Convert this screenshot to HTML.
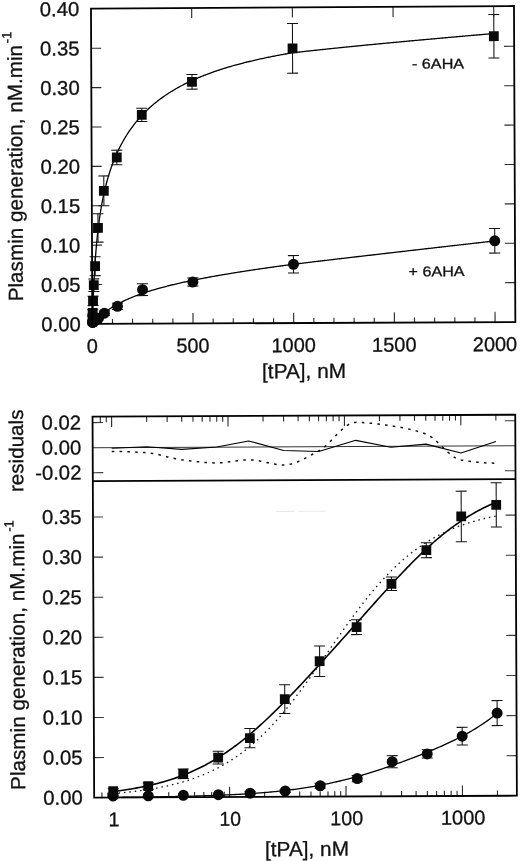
<!DOCTYPE html>
<html><head><meta charset="utf-8"><title>Plasmin generation vs [tPA]</title><style>html,body{margin:0;padding:0;background:#fff}svg{display:block}text{font-family:"Liberation Sans",Arial,Helvetica,sans-serif;stroke:#111;stroke-width:0.3px}</style></head><body><svg width="520" height="861" viewBox="0 0 520 861" font-family='"Liberation Sans", Arial, Helvetica, sans-serif' fill="#111"><rect width="520" height="861" fill="#fff"/><g transform="matrix(1 -0.0046 0.0043 1 -1.8490 1.1960)"><line x1="92.80" y1="283.81" x2="102.80" y2="283.81" stroke="#2a2a2a" stroke-width="1.1"/>
<line x1="515.70" y1="283.81" x2="505.70" y2="283.81" stroke="#2a2a2a" stroke-width="1.1"/>
<line x1="92.80" y1="244.42" x2="102.80" y2="244.42" stroke="#2a2a2a" stroke-width="1.1"/>
<line x1="515.70" y1="244.42" x2="505.70" y2="244.42" stroke="#2a2a2a" stroke-width="1.1"/>
<line x1="92.80" y1="205.03" x2="102.80" y2="205.03" stroke="#2a2a2a" stroke-width="1.1"/>
<line x1="515.70" y1="205.03" x2="505.70" y2="205.03" stroke="#2a2a2a" stroke-width="1.1"/>
<line x1="92.80" y1="165.64" x2="102.80" y2="165.64" stroke="#2a2a2a" stroke-width="1.1"/>
<line x1="515.70" y1="165.64" x2="505.70" y2="165.64" stroke="#2a2a2a" stroke-width="1.1"/>
<line x1="92.80" y1="126.25" x2="102.80" y2="126.25" stroke="#2a2a2a" stroke-width="1.1"/>
<line x1="515.70" y1="126.25" x2="505.70" y2="126.25" stroke="#2a2a2a" stroke-width="1.1"/>
<line x1="92.80" y1="86.86" x2="102.80" y2="86.86" stroke="#2a2a2a" stroke-width="1.1"/>
<line x1="515.70" y1="86.86" x2="505.70" y2="86.86" stroke="#2a2a2a" stroke-width="1.1"/>
<line x1="92.80" y1="47.47" x2="102.80" y2="47.47" stroke="#2a2a2a" stroke-width="1.1"/>
<line x1="515.70" y1="47.47" x2="505.70" y2="47.47" stroke="#2a2a2a" stroke-width="1.1"/>
<line x1="112.94" y1="323.20" x2="112.94" y2="318.20" stroke="#2a2a2a" stroke-width="1.1"/>
<line x1="133.07" y1="323.20" x2="133.07" y2="318.20" stroke="#2a2a2a" stroke-width="1.1"/>
<line x1="153.21" y1="323.20" x2="153.21" y2="318.20" stroke="#2a2a2a" stroke-width="1.1"/>
<line x1="173.35" y1="323.20" x2="173.35" y2="318.20" stroke="#2a2a2a" stroke-width="1.1"/>
<line x1="193.49" y1="323.20" x2="193.49" y2="312.80" stroke="#2a2a2a" stroke-width="1.1"/>
<line x1="193.49" y1="7.60" x2="193.49" y2="17.60" stroke="#2a2a2a" stroke-width="1.1"/>
<line x1="213.62" y1="323.20" x2="213.62" y2="318.20" stroke="#2a2a2a" stroke-width="1.1"/>
<line x1="233.76" y1="323.20" x2="233.76" y2="318.20" stroke="#2a2a2a" stroke-width="1.1"/>
<line x1="253.90" y1="323.20" x2="253.90" y2="318.20" stroke="#2a2a2a" stroke-width="1.1"/>
<line x1="274.03" y1="323.20" x2="274.03" y2="318.20" stroke="#2a2a2a" stroke-width="1.1"/>
<line x1="294.17" y1="323.20" x2="294.17" y2="312.80" stroke="#2a2a2a" stroke-width="1.1"/>
<line x1="294.17" y1="7.60" x2="294.17" y2="17.60" stroke="#2a2a2a" stroke-width="1.1"/>
<line x1="314.31" y1="323.20" x2="314.31" y2="318.20" stroke="#2a2a2a" stroke-width="1.1"/>
<line x1="334.44" y1="323.20" x2="334.44" y2="318.20" stroke="#2a2a2a" stroke-width="1.1"/>
<line x1="354.58" y1="323.20" x2="354.58" y2="318.20" stroke="#2a2a2a" stroke-width="1.1"/>
<line x1="374.72" y1="323.20" x2="374.72" y2="318.20" stroke="#2a2a2a" stroke-width="1.1"/>
<line x1="394.86" y1="323.20" x2="394.86" y2="312.80" stroke="#2a2a2a" stroke-width="1.1"/>
<line x1="394.86" y1="7.60" x2="394.86" y2="17.60" stroke="#2a2a2a" stroke-width="1.1"/>
<line x1="414.99" y1="323.20" x2="414.99" y2="318.20" stroke="#2a2a2a" stroke-width="1.1"/>
<line x1="435.13" y1="323.20" x2="435.13" y2="318.20" stroke="#2a2a2a" stroke-width="1.1"/>
<line x1="455.27" y1="323.20" x2="455.27" y2="318.20" stroke="#2a2a2a" stroke-width="1.1"/>
<line x1="475.40" y1="323.20" x2="475.40" y2="318.20" stroke="#2a2a2a" stroke-width="1.1"/>
<line x1="495.54" y1="323.20" x2="495.54" y2="312.80" stroke="#2a2a2a" stroke-width="1.1"/>
<line x1="495.54" y1="7.60" x2="495.54" y2="17.60" stroke="#2a2a2a" stroke-width="1.1"/>
<path d="M92.80,323.20 L92.90,320.16 L93.00,317.22 L93.10,314.38 L93.20,311.63 L93.30,308.98 L93.40,306.40 L93.50,303.90 L93.61,301.48 L93.71,299.13 L93.81,296.84 L93.91,294.62 L94.01,292.47 L94.11,290.37 L94.21,288.33 L94.31,286.34 L94.41,284.40 L94.51,282.52 L94.61,280.68 L94.71,278.88 L94.81,277.13 L94.91,275.42 L95.02,273.75 L95.12,272.12 L95.22,270.53 L95.32,268.97 L95.42,267.45 L95.52,265.95 L95.62,264.49 L95.72,263.07 L95.82,261.67 L95.92,260.29 L96.02,258.95 L96.12,257.63 L96.22,256.34 L96.32,255.08 L96.42,253.83 L96.53,252.61 L96.63,251.42 L96.73,250.24 L96.83,249.08 L96.93,247.95 L97.03,246.84 L97.13,245.74 L97.23,244.66 L97.33,243.60 L97.43,242.56 L97.53,241.54 L97.63,240.53 L97.73,239.54 L97.83,238.56 L97.93,237.60 L98.04,236.65 L98.14,235.72 L98.24,234.80 L98.34,233.89 L98.44,233.00 L98.54,232.12 L98.64,231.26 L98.74,230.40 L98.84,229.56 L98.94,228.73 L99.04,227.91 L99.14,227.10 L99.24,226.30 L99.34,225.51 L99.45,224.73 L99.55,223.97 L99.65,223.21 L99.75,222.46 L99.85,221.72 L99.95,220.99 L100.05,220.27 L100.15,219.56 L100.25,218.85 L100.35,218.16 L100.45,217.47 L100.55,216.79 L100.65,216.12 L100.75,215.45 L100.85,214.80 L100.96,214.15 L101.06,213.50 L101.16,212.87 L101.26,212.24 L101.36,211.62 L101.46,211.00 L101.56,210.39 L101.66,209.79 L101.76,209.19 L101.86,208.60 L101.96,208.02 L102.06,207.44 L102.16,206.86 L102.26,206.30 L102.37,205.73 L102.47,205.18 L102.57,204.63 L102.67,204.08 L102.77,203.54 L102.87,203.00 L102.97,202.47 L103.07,201.94 L103.17,201.42 L103.27,200.91 L103.37,200.39 L103.47,199.89 L103.57,199.38 L103.67,198.88 L103.77,198.39 L103.88,197.90 L103.98,197.41 L104.08,196.93 L104.18,196.45 L104.28,195.98 L104.38,195.51 L104.48,195.04 L104.58,194.58 L104.68,194.12 L104.78,193.66 L104.88,193.21 L104.98,192.76 L105.08,192.32 L105.18,191.88 L105.28,191.44 L105.39,191.00 L105.49,190.57 L105.59,190.14 L105.69,189.72 L105.79,189.30 L105.89,188.88 L105.99,188.46 L106.09,188.05 L106.19,187.64 L106.29,187.23 L106.39,186.83 L106.49,186.43 L106.59,186.03 L106.69,185.63 L106.80,185.24 L106.90,184.85 L107.00,184.46 L107.10,184.08 L107.20,183.69 L107.30,183.31 L107.40,182.94 L107.50,182.56 L107.60,182.19 L107.70,181.82 L107.80,181.45 L107.90,181.09 L108.00,180.72 L108.10,180.36 L108.20,180.01 L108.31,179.65 L108.41,179.29 L108.51,178.94 L108.61,178.59 L108.71,178.25 L108.81,177.90 L108.91,177.56 L109.01,177.22 L109.11,176.88 L109.21,176.54 L109.31,176.21 L109.41,175.87 L109.51,175.54 L109.61,175.21 L109.72,174.88 L109.82,174.56 L109.92,174.23 L110.02,173.91 L110.12,173.59 L110.22,173.27 L110.32,172.96 L110.42,172.64 L110.52,172.33 L110.62,172.02 L110.72,171.71 L110.82,171.40 L110.92,171.10 L111.02,170.79 L111.12,170.49 L111.23,170.19 L111.33,169.89 L111.43,169.59 L111.53,169.29 L111.63,169.00 L111.73,168.70 L111.83,168.41 L111.93,168.12 L112.03,167.83 L112.13,167.54 L112.23,167.26 L112.33,166.97 L112.43,166.69 L112.53,166.41 L112.63,166.13 L112.74,165.85 L112.84,165.57 L112.94,165.29 L113.94,162.60 L114.95,160.03 L115.96,157.58 L116.96,155.22 L117.97,152.96 L118.98,150.79 L119.98,148.71 L120.99,146.69 L122.00,144.75 L123.01,142.88 L124.01,141.06 L125.02,139.31 L126.03,137.61 L127.03,135.96 L128.04,134.37 L129.05,132.82 L130.05,131.31 L131.06,129.85 L132.07,128.43 L133.07,127.04 L134.08,125.69 L135.09,124.38 L136.09,123.10 L137.10,121.85 L138.11,120.63 L139.12,119.44 L140.12,118.28 L141.13,117.15 L142.14,116.04 L143.14,114.96 L144.15,113.90 L145.16,112.86 L146.16,111.85 L147.17,110.86 L148.18,109.89 L149.18,108.94 L150.19,108.01 L151.20,107.10 L152.20,106.20 L153.21,105.32 L154.22,104.46 L155.22,103.62 L156.23,102.79 L157.24,101.98 L158.25,101.19 L159.25,100.40 L160.26,99.64 L161.27,98.88 L162.27,98.14 L163.28,97.41 L164.29,96.70 L165.29,96.00 L166.30,95.31 L167.31,94.63 L168.31,93.96 L169.32,93.30 L170.33,92.66 L171.33,92.02 L172.34,91.40 L173.35,90.78 L174.35,90.18 L175.36,89.58 L176.37,88.99 L177.38,88.41 L178.38,87.85 L179.39,87.29 L180.40,86.73 L181.40,86.19 L182.41,85.65 L183.42,85.13 L184.42,84.61 L185.43,84.09 L186.44,83.59 L187.44,83.09 L188.45,82.60 L189.46,82.11 L190.46,81.64 L191.47,81.16 L192.48,80.70 L193.49,80.24 L194.49,79.79 L195.50,79.34 L196.51,78.90 L197.51,78.47 L198.52,78.04 L199.53,77.61 L200.53,77.20 L201.54,76.78 L202.55,76.38 L203.55,75.97 L204.56,75.58 L205.57,75.18 L206.57,74.80 L207.58,74.41 L208.59,74.04 L209.59,73.66 L210.60,73.29 L211.61,72.93 L212.62,72.57 L213.62,72.21 L214.63,71.86 L215.64,71.51 L216.64,71.17 L217.65,70.83 L218.66,70.49 L219.66,70.16 L220.67,69.83 L221.68,69.51 L222.68,69.19 L223.69,68.87 L224.70,68.56 L225.70,68.25 L226.71,67.94 L227.72,67.64 L228.72,67.34 L229.73,67.04 L230.74,66.75 L231.75,66.45 L232.75,66.17 L233.76,65.88 L234.77,65.60 L235.77,65.32 L236.78,65.05 L237.79,64.77 L238.79,64.50 L239.80,64.23 L240.81,63.97 L241.81,63.71 L242.82,63.45 L243.83,63.19 L244.83,62.94 L245.84,62.68 L246.85,62.43 L247.85,62.19 L248.86,61.94 L249.87,61.70 L250.88,61.46 L251.88,61.22 L252.89,60.99 L253.90,60.75 L254.90,60.52 L255.91,60.30 L256.92,60.07 L257.92,59.84 L258.93,59.62 L259.94,59.40 L260.94,59.18 L261.95,58.97 L262.96,58.75 L263.96,58.54 L264.97,58.33 L265.98,58.12 L266.99,57.91 L267.99,57.71 L269.00,57.50 L270.01,57.30 L271.01,57.10 L272.02,56.91 L273.03,56.71 L274.03,56.52 L275.04,56.32 L276.05,56.13 L277.05,55.94 L278.06,55.75 L279.07,55.57 L280.07,55.38 L281.08,55.20 L282.09,55.02 L283.09,54.84 L284.10,54.66 L285.11,54.48 L286.12,54.31 L287.12,54.13 L288.13,53.96 L289.14,53.79 L290.14,53.62 L291.15,53.45 L292.16,53.28 L293.16,53.11 L294.17,52.95 L295.18,52.84 L296.18,52.73 L297.19,52.62 L298.20,52.51 L299.20,52.40 L300.21,52.30 L301.22,52.19 L302.22,52.08 L303.23,51.97 L304.24,51.87 L305.25,51.76 L306.25,51.65 L307.26,51.55 L308.27,51.44 L309.27,51.34 L310.28,51.23 L311.29,51.13 L312.29,51.02 L313.30,50.92 L314.31,50.81 L315.31,50.71 L316.32,50.61 L317.33,50.50 L318.33,50.40 L319.34,50.30 L320.35,50.19 L321.35,50.09 L322.36,49.99 L323.37,49.89 L324.38,49.79 L325.38,49.69 L326.39,49.58 L327.40,49.48 L328.40,49.38 L329.41,49.28 L330.42,49.18 L331.42,49.08 L332.43,48.98 L333.44,48.88 L334.44,48.78 L335.45,48.68 L336.46,48.58 L337.46,48.49 L338.47,48.39 L339.48,48.29 L340.49,48.19 L341.49,48.09 L342.50,48.00 L343.51,47.90 L344.51,47.80 L345.52,47.70 L346.53,47.61 L347.53,47.51 L348.54,47.41 L349.55,47.32 L350.55,47.22 L351.56,47.12 L352.57,47.03 L353.57,46.93 L354.58,46.84 L355.59,46.74 L356.59,46.65 L357.60,46.55 L358.61,46.46 L359.62,46.36 L360.62,46.27 L361.63,46.17 L362.64,46.08 L363.64,45.98 L364.65,45.89 L365.66,45.80 L366.66,45.70 L367.67,45.61 L368.68,45.51 L369.68,45.42 L370.69,45.33 L371.70,45.24 L372.70,45.14 L373.71,45.05 L374.72,44.96 L375.72,44.87 L376.73,44.77 L377.74,44.68 L378.75,44.59 L379.75,44.50 L380.76,44.41 L381.77,44.31 L382.77,44.22 L383.78,44.13 L384.79,44.04 L385.79,43.95 L386.80,43.86 L387.81,43.77 L388.81,43.68 L389.82,43.59 L390.83,43.50 L391.83,43.41 L392.84,43.32 L393.85,43.23 L394.86,43.14 L395.86,43.05 L396.87,42.96 L397.88,42.87 L398.88,42.78 L399.89,42.69 L400.90,42.60 L401.90,42.51 L402.91,42.42 L403.92,42.33 L404.92,42.24 L405.93,42.16 L406.94,42.07 L407.94,41.98 L408.95,41.89 L409.96,41.80 L410.96,41.71 L411.97,41.63 L412.98,41.54 L413.99,41.45 L414.99,41.36 L416.00,41.28 L417.01,41.19 L418.01,41.10 L419.02,41.01 L420.03,40.93 L421.03,40.84 L422.04,40.75 L423.05,40.67 L424.05,40.58 L425.06,40.49 L426.07,40.40 L427.07,40.32 L428.08,40.23 L429.09,40.15 L430.09,40.06 L431.10,39.97 L432.11,39.89 L433.12,39.80 L434.12,39.72 L435.13,39.63 L436.14,39.54 L437.14,39.46 L438.15,39.37 L439.16,39.29 L440.16,39.20 L441.17,39.12 L442.18,39.03 L443.18,38.95 L444.19,38.86 L445.20,38.78 L446.20,38.69 L447.21,38.61 L448.22,38.52 L449.22,38.44 L450.23,38.35 L451.24,38.27 L452.25,38.18 L453.25,38.10 L454.26,38.02 L455.27,37.93 L456.27,37.85 L457.28,37.76 L458.29,37.68 L459.29,37.60 L460.30,37.51 L461.31,37.43 L462.31,37.34 L463.32,37.26 L464.33,37.18 L465.33,37.09 L466.34,37.01 L467.35,36.93 L468.36,36.84 L469.36,36.76 L470.37,36.68 L471.38,36.59 L472.38,36.51 L473.39,36.43 L474.40,36.35 L475.40,36.26 L476.41,36.18 L477.42,36.10 L478.42,36.02 L479.43,35.93 L480.44,35.85 L481.44,35.77 L482.45,35.69 L483.46,35.60 L484.46,35.52 L485.47,35.44 L486.48,35.36 L487.49,35.27 L488.49,35.19 L489.50,35.11 L490.51,35.03 L491.51,34.95 L492.52,34.87 L493.53,34.78 L494.53,34.70 L495.54,34.62" fill="none" stroke="#000" stroke-width="1.3" stroke-linejoin="round"/>
<path d="M92.80,323.20 L92.90,323.09 L93.00,322.97 L93.10,322.86 L93.20,322.74 L93.30,322.63 L93.40,322.52 L93.50,322.41 L93.61,322.30 L93.71,322.18 L93.81,322.07 L93.91,321.96 L94.01,321.85 L94.11,321.74 L94.21,321.64 L94.31,321.53 L94.41,321.42 L94.51,321.31 L94.61,321.20 L94.71,321.10 L94.81,320.99 L94.91,320.88 L95.02,320.78 L95.12,320.67 L95.22,320.57 L95.32,320.46 L95.42,320.36 L95.52,320.25 L95.62,320.15 L95.72,320.05 L95.82,319.94 L95.92,319.84 L96.02,319.74 L96.12,319.64 L96.22,319.54 L96.32,319.44 L96.42,319.33 L96.53,319.23 L96.63,319.13 L96.73,319.03 L96.83,318.94 L96.93,318.84 L97.03,318.74 L97.13,318.64 L97.23,318.54 L97.33,318.44 L97.43,318.35 L97.53,318.25 L97.63,318.15 L97.73,318.06 L97.83,317.96 L97.93,317.87 L98.04,317.77 L98.14,317.68 L98.24,317.58 L98.34,317.49 L98.44,317.39 L98.54,317.30 L98.64,317.21 L98.74,317.11 L98.84,317.02 L98.94,316.93 L99.04,316.84 L99.14,316.74 L99.24,316.65 L99.34,316.56 L99.45,316.47 L99.55,316.38 L99.65,316.29 L99.75,316.20 L99.85,316.11 L99.95,316.02 L100.05,315.93 L100.15,315.84 L100.25,315.76 L100.35,315.67 L100.45,315.58 L100.55,315.49 L100.65,315.40 L100.75,315.32 L100.85,315.23 L100.96,315.14 L101.06,315.06 L101.16,314.97 L101.26,314.89 L101.36,314.80 L101.46,314.72 L101.56,314.63 L101.66,314.55 L101.76,314.46 L101.86,314.38 L101.96,314.29 L102.06,314.21 L102.16,314.13 L102.26,314.05 L102.37,313.96 L102.47,313.88 L102.57,313.80 L102.67,313.72 L102.77,313.63 L102.87,313.55 L102.97,313.47 L103.07,313.39 L103.17,313.31 L103.27,313.23 L103.37,313.15 L103.47,313.07 L103.57,312.99 L103.67,312.91 L103.77,312.83 L103.88,312.75 L103.98,312.67 L104.08,312.59 L104.18,312.52 L104.28,312.44 L104.38,312.36 L104.48,312.28 L104.58,312.20 L104.68,312.13 L104.78,312.05 L104.88,311.97 L104.98,311.90 L105.08,311.82 L105.18,311.75 L105.28,311.67 L105.39,311.59 L105.49,311.52 L105.59,311.44 L105.69,311.37 L105.79,311.29 L105.89,311.22 L105.99,311.15 L106.09,311.07 L106.19,311.00 L106.29,310.92 L106.39,310.85 L106.49,310.78 L106.59,310.70 L106.69,310.63 L106.80,310.56 L106.90,310.49 L107.00,310.41 L107.10,310.34 L107.20,310.27 L107.30,310.20 L107.40,310.13 L107.50,310.06 L107.60,309.99 L107.70,309.91 L107.80,309.84 L107.90,309.77 L108.00,309.70 L108.10,309.63 L108.20,309.56 L108.31,309.49 L108.41,309.42 L108.51,309.36 L108.61,309.29 L108.71,309.22 L108.81,309.15 L108.91,309.08 L109.01,309.01 L109.11,308.94 L109.21,308.88 L109.31,308.81 L109.41,308.74 L109.51,308.67 L109.61,308.61 L109.72,308.54 L109.82,308.47 L109.92,308.41 L110.02,308.34 L110.12,308.27 L110.22,308.21 L110.32,308.14 L110.42,308.08 L110.52,308.01 L110.62,307.94 L110.72,307.88 L110.82,307.81 L110.92,307.75 L111.02,307.68 L111.12,307.62 L111.23,307.56 L111.33,307.49 L111.43,307.43 L111.53,307.36 L111.63,307.30 L111.73,307.24 L111.83,307.17 L111.93,307.11 L112.03,307.05 L112.13,306.98 L112.23,306.92 L112.33,306.86 L112.43,306.80 L112.53,306.73 L112.63,306.67 L112.74,306.61 L112.84,306.55 L112.94,306.49 L113.94,305.88 L114.95,305.28 L115.96,304.71 L116.96,304.14 L117.97,303.59 L118.98,303.05 L119.98,302.52 L120.99,302.00 L122.00,301.50 L123.01,301.01 L124.01,300.52 L125.02,300.05 L126.03,299.58 L127.03,299.13 L128.04,298.68 L129.05,298.24 L130.05,297.81 L131.06,297.39 L132.07,296.98 L133.07,296.57 L134.08,296.17 L135.09,295.78 L136.09,295.39 L137.10,295.01 L138.11,294.64 L139.12,294.27 L140.12,293.91 L141.13,293.55 L142.14,293.20 L143.14,292.85 L144.15,292.51 L145.16,292.18 L146.16,291.85 L147.17,291.52 L148.18,291.20 L149.18,290.89 L150.19,290.57 L151.20,290.27 L152.20,289.96 L153.21,289.66 L154.22,289.37 L155.22,289.07 L156.23,288.79 L157.24,288.50 L158.25,288.22 L159.25,287.94 L160.26,287.67 L161.27,287.39 L162.27,287.13 L163.28,286.86 L164.29,286.60 L165.29,286.34 L166.30,286.08 L167.31,285.83 L168.31,285.57 L169.32,285.33 L170.33,285.08 L171.33,284.84 L172.34,284.59 L173.35,284.35 L174.35,284.12 L175.36,283.88 L176.37,283.65 L177.38,283.42 L178.38,283.19 L179.39,282.97 L180.40,282.74 L181.40,282.52 L182.41,282.30 L183.42,282.08 L184.42,281.87 L185.43,281.65 L186.44,281.44 L187.44,281.23 L188.45,281.02 L189.46,280.81 L190.46,280.60 L191.47,280.40 L192.48,280.20 L193.49,280.00 L194.49,279.80 L195.50,279.60 L196.51,279.40 L197.51,279.21 L198.52,279.01 L199.53,278.82 L200.53,278.63 L201.54,278.44 L202.55,278.25 L203.55,278.06 L204.56,277.87 L205.57,277.69 L206.57,277.50 L207.58,277.32 L208.59,277.14 L209.59,276.96 L210.60,276.78 L211.61,276.60 L212.62,276.42 L213.62,276.25 L214.63,276.07 L215.64,275.90 L216.64,275.72 L217.65,275.55 L218.66,275.38 L219.66,275.21 L220.67,275.04 L221.68,274.87 L222.68,274.70 L223.69,274.54 L224.70,274.37 L225.70,274.21 L226.71,274.04 L227.72,273.88 L228.72,273.71 L229.73,273.55 L230.74,273.39 L231.75,273.23 L232.75,273.07 L233.76,272.91 L234.77,272.75 L235.77,272.60 L236.78,272.44 L237.79,272.28 L238.79,272.13 L239.80,271.97 L240.81,271.82 L241.81,271.67 L242.82,271.51 L243.83,271.36 L244.83,271.21 L245.84,271.06 L246.85,270.91 L247.85,270.76 L248.86,270.61 L249.87,270.46 L250.88,270.31 L251.88,270.17 L252.89,270.02 L253.90,269.87 L254.90,269.73 L255.91,269.58 L256.92,269.44 L257.92,269.29 L258.93,269.15 L259.94,269.01 L260.94,268.86 L261.95,268.72 L262.96,268.58 L263.96,268.44 L264.97,268.30 L265.98,268.16 L266.99,268.02 L267.99,267.88 L269.00,267.74 L270.01,267.60 L271.01,267.46 L272.02,267.33 L273.03,267.19 L274.03,267.05 L275.04,266.91 L276.05,266.78 L277.05,266.64 L278.06,266.51 L279.07,266.37 L280.07,266.24 L281.08,266.10 L282.09,265.97 L283.09,265.84 L284.10,265.70 L285.11,265.57 L286.12,265.44 L287.12,265.31 L288.13,265.18 L289.14,265.05 L290.14,264.91 L291.15,264.78 L292.16,264.65 L293.16,264.52 L294.17,264.39 L295.18,264.28 L296.18,264.16 L297.19,264.05 L298.20,263.93 L299.20,263.81 L300.21,263.70 L301.22,263.58 L302.22,263.47 L303.23,263.35 L304.24,263.24 L305.25,263.12 L306.25,263.00 L307.26,262.89 L308.27,262.77 L309.27,262.66 L310.28,262.54 L311.29,262.43 L312.29,262.31 L313.30,262.20 L314.31,262.08 L315.31,261.97 L316.32,261.85 L317.33,261.74 L318.33,261.63 L319.34,261.51 L320.35,261.40 L321.35,261.28 L322.36,261.17 L323.37,261.05 L324.38,260.94 L325.38,260.82 L326.39,260.71 L327.40,260.60 L328.40,260.48 L329.41,260.37 L330.42,260.25 L331.42,260.14 L332.43,260.03 L333.44,259.91 L334.44,259.80 L335.45,259.69 L336.46,259.57 L337.46,259.46 L338.47,259.34 L339.48,259.23 L340.49,259.12 L341.49,259.00 L342.50,258.89 L343.51,258.78 L344.51,258.66 L345.52,258.55 L346.53,258.44 L347.53,258.33 L348.54,258.21 L349.55,258.10 L350.55,257.99 L351.56,257.87 L352.57,257.76 L353.57,257.65 L354.58,257.53 L355.59,257.42 L356.59,257.31 L357.60,257.20 L358.61,257.08 L359.62,256.97 L360.62,256.86 L361.63,256.75 L362.64,256.63 L363.64,256.52 L364.65,256.41 L365.66,256.30 L366.66,256.18 L367.67,256.07 L368.68,255.96 L369.68,255.85 L370.69,255.74 L371.70,255.62 L372.70,255.51 L373.71,255.40 L374.72,255.29 L375.72,255.17 L376.73,255.06 L377.74,254.95 L378.75,254.84 L379.75,254.73 L380.76,254.62 L381.77,254.50 L382.77,254.39 L383.78,254.28 L384.79,254.17 L385.79,254.06 L386.80,253.95 L387.81,253.83 L388.81,253.72 L389.82,253.61 L390.83,253.50 L391.83,253.39 L392.84,253.28 L393.85,253.16 L394.86,253.05 L395.86,252.94 L396.87,252.83 L397.88,252.72 L398.88,252.61 L399.89,252.50 L400.90,252.39 L401.90,252.27 L402.91,252.16 L403.92,252.05 L404.92,251.94 L405.93,251.83 L406.94,251.72 L407.94,251.61 L408.95,251.50 L409.96,251.39 L410.96,251.27 L411.97,251.16 L412.98,251.05 L413.99,250.94 L414.99,250.83 L416.00,250.72 L417.01,250.61 L418.01,250.50 L419.02,250.39 L420.03,250.28 L421.03,250.17 L422.04,250.05 L423.05,249.94 L424.05,249.83 L425.06,249.72 L426.07,249.61 L427.07,249.50 L428.08,249.39 L429.09,249.28 L430.09,249.17 L431.10,249.06 L432.11,248.95 L433.12,248.84 L434.12,248.73 L435.13,248.62 L436.14,248.51 L437.14,248.40 L438.15,248.29 L439.16,248.18 L440.16,248.07 L441.17,247.96 L442.18,247.85 L443.18,247.73 L444.19,247.62 L445.20,247.51 L446.20,247.40 L447.21,247.29 L448.22,247.18 L449.22,247.07 L450.23,246.96 L451.24,246.85 L452.25,246.74 L453.25,246.63 L454.26,246.52 L455.27,246.41 L456.27,246.30 L457.28,246.19 L458.29,246.08 L459.29,245.97 L460.30,245.86 L461.31,245.75 L462.31,245.64 L463.32,245.53 L464.33,245.42 L465.33,245.31 L466.34,245.20 L467.35,245.09 L468.36,244.98 L469.36,244.87 L470.37,244.76 L471.38,244.65 L472.38,244.54 L473.39,244.44 L474.40,244.33 L475.40,244.22 L476.41,244.11 L477.42,244.00 L478.42,243.89 L479.43,243.78 L480.44,243.67 L481.44,243.56 L482.45,243.45 L483.46,243.34 L484.46,243.23 L485.47,243.12 L486.48,243.01 L487.49,242.90 L488.49,242.79 L489.50,242.68 L490.51,242.57 L491.51,242.46 L492.52,242.35 L493.53,242.24 L494.53,242.13 L495.54,242.02" fill="none" stroke="#000" stroke-width="1.3" stroke-linejoin="round"/>
<line x1="93.00" y1="314.46" x2="93.00" y2="319.18" stroke="#111" stroke-width="1.05"/>
<line x1="87.50" y1="314.46" x2="98.50" y2="314.46" stroke="#111" stroke-width="1.05"/>
<line x1="87.50" y1="319.18" x2="98.50" y2="319.18" stroke="#111" stroke-width="1.05"/>
<line x1="93.20" y1="308.91" x2="93.20" y2="315.21" stroke="#111" stroke-width="1.05"/>
<line x1="87.70" y1="308.91" x2="98.70" y2="308.91" stroke="#111" stroke-width="1.05"/>
<line x1="87.70" y1="315.21" x2="98.70" y2="315.21" stroke="#111" stroke-width="1.05"/>
<line x1="93.61" y1="295.39" x2="93.61" y2="304.84" stroke="#111" stroke-width="1.05"/>
<line x1="88.11" y1="295.39" x2="99.11" y2="295.39" stroke="#111" stroke-width="1.05"/>
<line x1="88.11" y1="304.84" x2="99.11" y2="304.84" stroke="#111" stroke-width="1.05"/>
<line x1="94.41" y1="278.14" x2="94.41" y2="290.74" stroke="#111" stroke-width="1.05"/>
<line x1="88.91" y1="278.14" x2="99.91" y2="278.14" stroke="#111" stroke-width="1.05"/>
<line x1="88.91" y1="290.74" x2="99.91" y2="290.74" stroke="#111" stroke-width="1.05"/>
<line x1="95.82" y1="256.00" x2="95.82" y2="274.91" stroke="#111" stroke-width="1.05"/>
<line x1="90.32" y1="256.00" x2="101.32" y2="256.00" stroke="#111" stroke-width="1.05"/>
<line x1="90.32" y1="274.91" x2="101.32" y2="274.91" stroke="#111" stroke-width="1.05"/>
<line x1="98.84" y1="213.07" x2="98.84" y2="241.43" stroke="#111" stroke-width="1.05"/>
<line x1="93.34" y1="213.07" x2="104.34" y2="213.07" stroke="#111" stroke-width="1.05"/>
<line x1="93.34" y1="241.43" x2="104.34" y2="241.43" stroke="#111" stroke-width="1.05"/>
<line x1="104.88" y1="175.17" x2="104.88" y2="205.11" stroke="#111" stroke-width="1.05"/>
<line x1="99.38" y1="175.17" x2="110.38" y2="175.17" stroke="#111" stroke-width="1.05"/>
<line x1="99.38" y1="205.11" x2="110.38" y2="205.11" stroke="#111" stroke-width="1.05"/>
<line x1="117.97" y1="149.49" x2="117.97" y2="164.14" stroke="#111" stroke-width="1.05"/>
<line x1="112.47" y1="149.49" x2="123.47" y2="149.49" stroke="#111" stroke-width="1.05"/>
<line x1="112.47" y1="164.14" x2="123.47" y2="164.14" stroke="#111" stroke-width="1.05"/>
<line x1="143.14" y1="107.74" x2="143.14" y2="120.97" stroke="#111" stroke-width="1.05"/>
<line x1="137.64" y1="107.74" x2="148.64" y2="107.74" stroke="#111" stroke-width="1.05"/>
<line x1="137.64" y1="120.97" x2="148.64" y2="120.97" stroke="#111" stroke-width="1.05"/>
<line x1="193.49" y1="74.18" x2="193.49" y2="88.83" stroke="#111" stroke-width="1.05"/>
<line x1="187.99" y1="74.18" x2="198.99" y2="74.18" stroke="#111" stroke-width="1.05"/>
<line x1="187.99" y1="88.83" x2="198.99" y2="88.83" stroke="#111" stroke-width="1.05"/>
<line x1="294.17" y1="23.68" x2="294.17" y2="73.31" stroke="#111" stroke-width="1.05"/>
<line x1="288.67" y1="23.68" x2="299.67" y2="23.68" stroke="#111" stroke-width="1.05"/>
<line x1="288.67" y1="73.31" x2="299.67" y2="73.31" stroke="#111" stroke-width="1.05"/>
<line x1="495.54" y1="15.56" x2="495.54" y2="59.05" stroke="#111" stroke-width="1.05"/>
<line x1="490.04" y1="15.56" x2="501.04" y2="15.56" stroke="#111" stroke-width="1.05"/>
<line x1="490.04" y1="59.05" x2="501.04" y2="59.05" stroke="#111" stroke-width="1.05"/>
<line x1="95.82" y1="317.92" x2="95.82" y2="321.07" stroke="#111" stroke-width="1.05"/>
<line x1="90.32" y1="317.92" x2="101.32" y2="317.92" stroke="#111" stroke-width="1.05"/>
<line x1="90.32" y1="321.07" x2="101.32" y2="321.07" stroke="#111" stroke-width="1.05"/>
<line x1="98.84" y1="315.95" x2="98.84" y2="319.10" stroke="#111" stroke-width="1.05"/>
<line x1="93.34" y1="315.95" x2="104.34" y2="315.95" stroke="#111" stroke-width="1.05"/>
<line x1="93.34" y1="319.10" x2="104.34" y2="319.10" stroke="#111" stroke-width="1.05"/>
<line x1="104.88" y1="310.17" x2="104.88" y2="314.90" stroke="#111" stroke-width="1.05"/>
<line x1="99.38" y1="310.17" x2="110.38" y2="310.17" stroke="#111" stroke-width="1.05"/>
<line x1="99.38" y1="314.90" x2="110.38" y2="314.90" stroke="#111" stroke-width="1.05"/>
<line x1="117.97" y1="302.48" x2="117.97" y2="308.78" stroke="#111" stroke-width="1.05"/>
<line x1="112.47" y1="302.48" x2="123.47" y2="302.48" stroke="#111" stroke-width="1.05"/>
<line x1="112.47" y1="308.78" x2="123.47" y2="308.78" stroke="#111" stroke-width="1.05"/>
<line x1="143.14" y1="283.26" x2="143.14" y2="295.08" stroke="#111" stroke-width="1.05"/>
<line x1="137.64" y1="283.26" x2="148.64" y2="283.26" stroke="#111" stroke-width="1.05"/>
<line x1="137.64" y1="295.08" x2="148.64" y2="295.08" stroke="#111" stroke-width="1.05"/>
<line x1="193.49" y1="277.59" x2="193.49" y2="285.78" stroke="#111" stroke-width="1.05"/>
<line x1="187.99" y1="277.59" x2="198.99" y2="277.59" stroke="#111" stroke-width="1.05"/>
<line x1="187.99" y1="285.78" x2="198.99" y2="285.78" stroke="#111" stroke-width="1.05"/>
<line x1="294.17" y1="255.76" x2="294.17" y2="273.10" stroke="#111" stroke-width="1.05"/>
<line x1="288.67" y1="255.76" x2="299.67" y2="255.76" stroke="#111" stroke-width="1.05"/>
<line x1="288.67" y1="273.10" x2="299.67" y2="273.10" stroke="#111" stroke-width="1.05"/>
<line x1="495.54" y1="229.61" x2="495.54" y2="254.19" stroke="#111" stroke-width="1.05"/>
<line x1="490.04" y1="229.61" x2="501.04" y2="229.61" stroke="#111" stroke-width="1.05"/>
<line x1="490.04" y1="254.19" x2="501.04" y2="254.19" stroke="#111" stroke-width="1.05"/>
<rect x="88.10" y="311.92" width="9.8" height="9.8" fill="#0a0a0a"/>
<rect x="88.30" y="307.16" width="9.8" height="9.8" fill="#0a0a0a"/>
<rect x="88.71" y="295.22" width="9.8" height="9.8" fill="#0a0a0a"/>
<rect x="89.51" y="279.54" width="9.8" height="9.8" fill="#0a0a0a"/>
<rect x="90.92" y="260.55" width="9.8" height="9.8" fill="#0a0a0a"/>
<rect x="93.94" y="222.35" width="9.8" height="9.8" fill="#0a0a0a"/>
<rect x="99.98" y="185.24" width="9.8" height="9.8" fill="#0a0a0a"/>
<rect x="113.07" y="151.92" width="9.8" height="9.8" fill="#0a0a0a"/>
<rect x="138.24" y="109.45" width="9.8" height="9.8" fill="#0a0a0a"/>
<rect x="188.59" y="76.60" width="9.8" height="9.8" fill="#0a0a0a"/>
<rect x="289.27" y="43.59" width="9.8" height="9.8" fill="#0a0a0a"/>
<rect x="490.64" y="32.41" width="9.8" height="9.8" fill="#0a0a0a"/>
<circle cx="93.00" cy="321.62" r="5.5" fill="#0a0a0a"/>
<circle cx="93.20" cy="321.62" r="5.5" fill="#0a0a0a"/>
<circle cx="93.61" cy="321.23" r="5.5" fill="#0a0a0a"/>
<circle cx="94.41" cy="320.84" r="5.5" fill="#0a0a0a"/>
<circle cx="95.82" cy="319.50" r="5.5" fill="#0a0a0a"/>
<circle cx="98.84" cy="317.53" r="5.5" fill="#0a0a0a"/>
<circle cx="104.88" cy="312.53" r="5.5" fill="#0a0a0a"/>
<circle cx="117.97" cy="305.63" r="5.5" fill="#0a0a0a"/>
<circle cx="143.14" cy="289.17" r="5.5" fill="#0a0a0a"/>
<circle cx="193.49" cy="281.68" r="5.5" fill="#0a0a0a"/>
<circle cx="294.17" cy="264.43" r="5.5" fill="#0a0a0a"/>
<circle cx="495.54" cy="241.90" r="5.5" fill="#0a0a0a"/>
<polygon points="92.8,7.87 515.8000000000001,7.2 515.8000000000001,323.2 92.8,323.2" fill="none" stroke="#000" stroke-width="1.8"/>
<text x="81.20" y="330.30" font-size="20" text-anchor="end" textLength="39.6" lengthAdjust="spacingAndGlyphs">0.00</text>
<text x="81.20" y="290.91" font-size="20" text-anchor="end" textLength="39.6" lengthAdjust="spacingAndGlyphs">0.05</text>
<text x="81.20" y="251.52" font-size="20" text-anchor="end" textLength="39.6" lengthAdjust="spacingAndGlyphs">0.10</text>
<text x="81.20" y="212.13" font-size="20" text-anchor="end" textLength="39.6" lengthAdjust="spacingAndGlyphs">0.15</text>
<text x="81.20" y="172.74" font-size="20" text-anchor="end" textLength="39.6" lengthAdjust="spacingAndGlyphs">0.20</text>
<text x="81.20" y="133.35" font-size="20" text-anchor="end" textLength="39.6" lengthAdjust="spacingAndGlyphs">0.25</text>
<text x="81.20" y="93.96" font-size="20" text-anchor="end" textLength="39.6" lengthAdjust="spacingAndGlyphs">0.30</text>
<text x="81.20" y="54.57" font-size="20" text-anchor="end" textLength="39.6" lengthAdjust="spacingAndGlyphs">0.35</text>
<text x="81.20" y="15.18" font-size="20" text-anchor="end" textLength="39.6" lengthAdjust="spacingAndGlyphs">0.40</text>
<text x="92.60" y="352.20" font-size="20" text-anchor="middle">0</text>
<text x="193.29" y="352.20" font-size="20" text-anchor="middle" textLength="33.0" lengthAdjust="spacingAndGlyphs">500</text>
<text x="293.97" y="352.20" font-size="20" text-anchor="middle" textLength="44.5" lengthAdjust="spacingAndGlyphs">1000</text>
<text x="394.66" y="352.20" font-size="20" text-anchor="middle" textLength="44.5" lengthAdjust="spacingAndGlyphs">1500</text>
<text x="495.34" y="352.20" font-size="20" text-anchor="middle" textLength="44.5" lengthAdjust="spacingAndGlyphs">2000</text>
<text x="304.30" y="378.30" font-size="20.6" text-anchor="middle" textLength="84.0" lengthAdjust="spacingAndGlyphs">[tPA], nM</text>
<g transform="translate(23.50,300.20) rotate(-90)"><text x="0" y="0" font-size="20.5" text-anchor="start" textLength="256.4" lengthAdjust="spacingAndGlyphs">Plasmin generation, nM.min</text><text x="258.2" y="-10.6" font-size="13.4" text-anchor="start" textLength="11.6" lengthAdjust="spacingAndGlyphs">-1</text></g>
<text x="413.50" y="69.30" font-size="14" text-anchor="start" textLength="52.2" lengthAdjust="spacingAndGlyphs">- 6AHA</text>
<text x="409.20" y="277.00" font-size="14" text-anchor="start" textLength="56.0" lengthAdjust="spacingAndGlyphs">+ 6AHA</text>
<line x1="100.38" y1="415.90" x2="100.38" y2="421.50" stroke="#2a2a2a" stroke-width="1.1"/>
<line x1="100.38" y1="796.90" x2="100.38" y2="791.70" stroke="#2a2a2a" stroke-width="1.1"/>
<line x1="106.33" y1="415.90" x2="106.33" y2="421.50" stroke="#2a2a2a" stroke-width="1.1"/>
<line x1="106.33" y1="796.90" x2="106.33" y2="791.70" stroke="#2a2a2a" stroke-width="1.1"/>
<line x1="111.66" y1="415.90" x2="111.66" y2="426.30" stroke="#2a2a2a" stroke-width="1.1"/>
<line x1="111.66" y1="796.90" x2="111.66" y2="786.50" stroke="#2a2a2a" stroke-width="1.1"/>
<line x1="146.70" y1="415.90" x2="146.70" y2="421.50" stroke="#2a2a2a" stroke-width="1.1"/>
<line x1="146.70" y1="796.90" x2="146.70" y2="791.70" stroke="#2a2a2a" stroke-width="1.1"/>
<line x1="167.20" y1="415.90" x2="167.20" y2="421.50" stroke="#2a2a2a" stroke-width="1.1"/>
<line x1="167.20" y1="796.90" x2="167.20" y2="791.70" stroke="#2a2a2a" stroke-width="1.1"/>
<line x1="181.74" y1="415.90" x2="181.74" y2="421.50" stroke="#2a2a2a" stroke-width="1.1"/>
<line x1="181.74" y1="796.90" x2="181.74" y2="791.70" stroke="#2a2a2a" stroke-width="1.1"/>
<line x1="193.02" y1="415.90" x2="193.02" y2="421.50" stroke="#2a2a2a" stroke-width="1.1"/>
<line x1="193.02" y1="796.90" x2="193.02" y2="791.70" stroke="#2a2a2a" stroke-width="1.1"/>
<line x1="202.24" y1="415.90" x2="202.24" y2="421.50" stroke="#2a2a2a" stroke-width="1.1"/>
<line x1="202.24" y1="796.90" x2="202.24" y2="791.70" stroke="#2a2a2a" stroke-width="1.1"/>
<line x1="210.03" y1="415.90" x2="210.03" y2="421.50" stroke="#2a2a2a" stroke-width="1.1"/>
<line x1="210.03" y1="796.90" x2="210.03" y2="791.70" stroke="#2a2a2a" stroke-width="1.1"/>
<line x1="216.78" y1="415.90" x2="216.78" y2="421.50" stroke="#2a2a2a" stroke-width="1.1"/>
<line x1="216.78" y1="796.90" x2="216.78" y2="791.70" stroke="#2a2a2a" stroke-width="1.1"/>
<line x1="222.73" y1="415.90" x2="222.73" y2="421.50" stroke="#2a2a2a" stroke-width="1.1"/>
<line x1="222.73" y1="796.90" x2="222.73" y2="791.70" stroke="#2a2a2a" stroke-width="1.1"/>
<line x1="228.06" y1="415.90" x2="228.06" y2="426.30" stroke="#2a2a2a" stroke-width="1.1"/>
<line x1="228.06" y1="796.90" x2="228.06" y2="786.50" stroke="#2a2a2a" stroke-width="1.1"/>
<line x1="263.10" y1="415.90" x2="263.10" y2="421.50" stroke="#2a2a2a" stroke-width="1.1"/>
<line x1="263.10" y1="796.90" x2="263.10" y2="791.70" stroke="#2a2a2a" stroke-width="1.1"/>
<line x1="283.60" y1="415.90" x2="283.60" y2="421.50" stroke="#2a2a2a" stroke-width="1.1"/>
<line x1="283.60" y1="796.90" x2="283.60" y2="791.70" stroke="#2a2a2a" stroke-width="1.1"/>
<line x1="298.14" y1="415.90" x2="298.14" y2="421.50" stroke="#2a2a2a" stroke-width="1.1"/>
<line x1="298.14" y1="796.90" x2="298.14" y2="791.70" stroke="#2a2a2a" stroke-width="1.1"/>
<line x1="309.42" y1="415.90" x2="309.42" y2="421.50" stroke="#2a2a2a" stroke-width="1.1"/>
<line x1="309.42" y1="796.90" x2="309.42" y2="791.70" stroke="#2a2a2a" stroke-width="1.1"/>
<line x1="318.64" y1="415.90" x2="318.64" y2="421.50" stroke="#2a2a2a" stroke-width="1.1"/>
<line x1="318.64" y1="796.90" x2="318.64" y2="791.70" stroke="#2a2a2a" stroke-width="1.1"/>
<line x1="326.43" y1="415.90" x2="326.43" y2="421.50" stroke="#2a2a2a" stroke-width="1.1"/>
<line x1="326.43" y1="796.90" x2="326.43" y2="791.70" stroke="#2a2a2a" stroke-width="1.1"/>
<line x1="333.18" y1="415.90" x2="333.18" y2="421.50" stroke="#2a2a2a" stroke-width="1.1"/>
<line x1="333.18" y1="796.90" x2="333.18" y2="791.70" stroke="#2a2a2a" stroke-width="1.1"/>
<line x1="339.13" y1="415.90" x2="339.13" y2="421.50" stroke="#2a2a2a" stroke-width="1.1"/>
<line x1="339.13" y1="796.90" x2="339.13" y2="791.70" stroke="#2a2a2a" stroke-width="1.1"/>
<line x1="344.46" y1="415.90" x2="344.46" y2="426.30" stroke="#2a2a2a" stroke-width="1.1"/>
<line x1="344.46" y1="796.90" x2="344.46" y2="786.50" stroke="#2a2a2a" stroke-width="1.1"/>
<line x1="379.50" y1="415.90" x2="379.50" y2="421.50" stroke="#2a2a2a" stroke-width="1.1"/>
<line x1="379.50" y1="796.90" x2="379.50" y2="791.70" stroke="#2a2a2a" stroke-width="1.1"/>
<line x1="400.00" y1="415.90" x2="400.00" y2="421.50" stroke="#2a2a2a" stroke-width="1.1"/>
<line x1="400.00" y1="796.90" x2="400.00" y2="791.70" stroke="#2a2a2a" stroke-width="1.1"/>
<line x1="414.54" y1="415.90" x2="414.54" y2="421.50" stroke="#2a2a2a" stroke-width="1.1"/>
<line x1="414.54" y1="796.90" x2="414.54" y2="791.70" stroke="#2a2a2a" stroke-width="1.1"/>
<line x1="425.82" y1="415.90" x2="425.82" y2="421.50" stroke="#2a2a2a" stroke-width="1.1"/>
<line x1="425.82" y1="796.90" x2="425.82" y2="791.70" stroke="#2a2a2a" stroke-width="1.1"/>
<line x1="435.04" y1="415.90" x2="435.04" y2="421.50" stroke="#2a2a2a" stroke-width="1.1"/>
<line x1="435.04" y1="796.90" x2="435.04" y2="791.70" stroke="#2a2a2a" stroke-width="1.1"/>
<line x1="442.83" y1="415.90" x2="442.83" y2="421.50" stroke="#2a2a2a" stroke-width="1.1"/>
<line x1="442.83" y1="796.90" x2="442.83" y2="791.70" stroke="#2a2a2a" stroke-width="1.1"/>
<line x1="449.58" y1="415.90" x2="449.58" y2="421.50" stroke="#2a2a2a" stroke-width="1.1"/>
<line x1="449.58" y1="796.90" x2="449.58" y2="791.70" stroke="#2a2a2a" stroke-width="1.1"/>
<line x1="455.53" y1="415.90" x2="455.53" y2="421.50" stroke="#2a2a2a" stroke-width="1.1"/>
<line x1="455.53" y1="796.90" x2="455.53" y2="791.70" stroke="#2a2a2a" stroke-width="1.1"/>
<line x1="460.86" y1="415.90" x2="460.86" y2="426.30" stroke="#2a2a2a" stroke-width="1.1"/>
<line x1="460.86" y1="796.90" x2="460.86" y2="786.50" stroke="#2a2a2a" stroke-width="1.1"/>
<line x1="495.90" y1="415.90" x2="495.90" y2="421.50" stroke="#2a2a2a" stroke-width="1.1"/>
<line x1="495.90" y1="796.90" x2="495.90" y2="791.70" stroke="#2a2a2a" stroke-width="1.1"/>
<line x1="92.60" y1="756.81" x2="102.60" y2="756.81" stroke="#3a3a3a" stroke-width="1.1"/>
<line x1="515.30" y1="756.81" x2="505.30" y2="756.81" stroke="#3a3a3a" stroke-width="1.1"/>
<line x1="92.60" y1="716.73" x2="102.60" y2="716.73" stroke="#3a3a3a" stroke-width="1.1"/>
<line x1="515.30" y1="716.73" x2="505.30" y2="716.73" stroke="#3a3a3a" stroke-width="1.1"/>
<line x1="92.60" y1="676.64" x2="102.60" y2="676.64" stroke="#3a3a3a" stroke-width="1.1"/>
<line x1="515.30" y1="676.64" x2="505.30" y2="676.64" stroke="#3a3a3a" stroke-width="1.1"/>
<line x1="92.60" y1="636.56" x2="102.60" y2="636.56" stroke="#3a3a3a" stroke-width="1.1"/>
<line x1="515.30" y1="636.56" x2="505.30" y2="636.56" stroke="#3a3a3a" stroke-width="1.1"/>
<line x1="92.60" y1="596.47" x2="102.60" y2="596.47" stroke="#3a3a3a" stroke-width="1.1"/>
<line x1="515.30" y1="596.47" x2="505.30" y2="596.47" stroke="#3a3a3a" stroke-width="1.1"/>
<line x1="92.60" y1="556.39" x2="102.60" y2="556.39" stroke="#3a3a3a" stroke-width="1.1"/>
<line x1="515.30" y1="556.39" x2="505.30" y2="556.39" stroke="#3a3a3a" stroke-width="1.1"/>
<line x1="92.60" y1="516.30" x2="102.60" y2="516.30" stroke="#3a3a3a" stroke-width="1.1"/>
<line x1="515.30" y1="516.30" x2="505.30" y2="516.30" stroke="#3a3a3a" stroke-width="1.1"/>
<line x1="92.60" y1="421.85" x2="103.10" y2="421.85" stroke="#3a3a3a" stroke-width="1.1"/>
<line x1="515.30" y1="421.85" x2="504.80" y2="421.85" stroke="#3a3a3a" stroke-width="1.1"/>
<line x1="92.60" y1="471.95" x2="103.10" y2="471.95" stroke="#3a3a3a" stroke-width="1.1"/>
<line x1="515.30" y1="471.95" x2="504.80" y2="471.95" stroke="#3a3a3a" stroke-width="1.1"/>
<line x1="92.60" y1="446.90" x2="515.30" y2="446.90" stroke="#333" stroke-width="1.0"/>
<path d="M111.66,447.54 L146.70,446.22 L181.74,449.06 L216.78,446.84 L248.56,440.88 L283.60,450.58 L318.64,451.78 L355.74,440.78 L390.78,447.86 L425.82,444.89 L460.86,453.98 L495.90,442.63" fill="none" stroke="#000" stroke-width="1.1" stroke-linejoin="round"/>
<path d="M111.66,450.76 L113.59,450.77 L115.52,450.79 L117.45,450.81 L119.38,450.85 L121.31,450.90 L123.25,450.96 L125.18,451.02 L127.11,451.10 L129.04,451.18 L130.97,451.27 L132.90,451.37 L134.83,451.47 L136.76,451.58 L138.69,451.69 L140.62,451.81 L142.55,451.94 L144.48,452.07 L146.42,452.20 L148.35,452.36 L150.28,452.59 L152.21,452.88 L154.14,453.22 L156.07,453.61 L158.00,454.04 L159.93,454.50 L161.86,454.98 L163.79,455.48 L165.72,455.98 L167.65,456.49 L169.59,456.99 L171.52,457.47 L173.45,457.93 L175.38,458.36 L177.31,458.76 L179.24,459.10 L181.17,459.40 L183.10,459.65 L185.03,459.90 L186.96,460.15 L188.89,460.40 L190.83,460.65 L192.76,460.89 L194.69,461.13 L196.62,461.36 L198.55,461.58 L200.48,461.78 L202.41,461.97 L204.34,462.14 L206.27,462.29 L208.20,462.43 L210.13,462.54 L212.06,462.62 L214.00,462.68 L215.93,462.71 L217.86,462.70 L219.79,462.64 L221.72,462.52 L223.65,462.36 L225.58,462.17 L227.51,461.94 L229.44,461.69 L231.37,461.43 L233.30,461.17 L235.23,460.91 L237.17,460.65 L239.10,460.42 L241.03,460.21 L242.96,460.04 L244.89,459.91 L246.82,459.82 L248.75,459.80 L250.68,459.86 L252.61,459.99 L254.54,460.21 L256.47,460.48 L258.40,460.81 L260.34,461.18 L262.27,461.59 L264.20,462.01 L266.13,462.44 L268.06,462.88 L269.99,463.30 L271.92,463.70 L273.85,464.07 L275.78,464.39 L277.71,464.67 L279.64,464.88 L281.58,465.01 L283.51,465.06 L285.44,465.00 L287.37,464.80 L289.30,464.48 L291.23,464.05 L293.16,463.51 L295.09,462.88 L297.02,462.16 L298.95,461.37 L300.88,460.51 L302.81,459.60 L304.75,458.63 L306.68,457.63 L308.61,456.61 L310.54,455.56 L312.47,454.50 L314.40,453.45 L316.33,452.41 L318.26,451.38 L320.19,450.30 L322.12,448.99 L324.05,447.49 L325.98,445.83 L327.92,444.03 L329.85,442.14 L331.78,440.17 L333.71,438.17 L335.64,436.17 L337.57,434.19 L339.50,432.27 L341.43,430.44 L343.36,428.73 L345.29,427.17 L347.22,425.81 L349.16,424.65 L351.09,423.75 L353.02,423.13 L354.95,422.82 L356.88,422.79 L358.81,422.83 L360.74,422.90 L362.67,423.00 L364.60,423.12 L366.53,423.28 L368.46,423.45 L370.39,423.65 L372.33,423.86 L374.26,424.09 L376.19,424.33 L378.12,424.59 L380.05,424.86 L381.98,425.13 L383.91,425.41 L385.84,425.69 L387.77,425.97 L389.70,426.26 L391.63,426.54 L393.56,426.83 L395.50,427.14 L397.43,427.46 L399.36,427.80 L401.29,428.16 L403.22,428.54 L405.15,428.94 L407.08,429.36 L409.01,429.81 L410.94,430.28 L412.87,430.77 L414.80,431.29 L416.73,431.83 L418.67,432.40 L420.60,433.00 L422.53,433.63 L424.46,434.29 L426.39,434.99 L428.32,435.91 L430.25,437.07 L432.18,438.44 L434.11,439.98 L436.04,441.67 L437.97,443.46 L439.91,445.32 L441.84,447.23 L443.77,449.14 L445.70,451.03 L447.63,452.85 L449.56,454.57 L451.49,456.17 L453.42,457.60 L455.35,458.83 L457.28,459.83 L459.21,460.57 L461.14,461.00 L463.08,461.32 L465.01,461.62 L466.94,461.91 L468.87,462.19 L470.80,462.45 L472.73,462.70 L474.66,462.93 L476.59,463.14 L478.52,463.34 L480.45,463.52 L482.38,463.68 L484.31,463.83 L486.25,463.95 L488.18,464.05 L490.11,464.13 L492.04,464.19 L493.97,464.23 L495.90,464.24" fill="none" stroke="#111" stroke-width="1.5" stroke-linejoin="round" stroke-dasharray="2.6 5.2"/>
<path d="M111.66,790.82 L113.27,790.63 L114.88,790.43 L116.48,790.23 L118.09,790.02 L119.70,789.81 L121.31,789.59 L122.91,789.36 L124.52,789.13 L126.13,788.89 L127.74,788.64 L129.34,788.39 L130.95,788.13 L132.56,787.86 L134.17,787.58 L135.78,787.30 L137.38,787.00 L138.99,786.70 L140.60,786.39 L142.21,786.07 L143.81,785.74 L145.42,785.41 L147.03,785.06 L148.64,784.70 L150.24,784.34 L151.85,783.96 L153.46,783.57 L155.07,783.17 L156.68,782.76 L158.28,782.34 L159.89,781.91 L161.50,781.47 L163.11,781.01 L164.71,780.55 L166.32,780.07 L167.93,779.58 L169.54,779.07 L171.14,778.55 L172.75,778.02 L174.36,777.48 L175.97,776.92 L177.58,776.35 L179.18,775.76 L180.79,775.16 L182.40,774.54 L184.01,773.91 L185.61,773.26 L187.22,772.60 L188.83,771.92 L190.44,771.23 L192.04,770.52 L193.65,769.79 L195.26,769.05 L196.87,768.29 L198.48,767.51 L200.08,766.72 L201.69,765.90 L203.30,765.08 L204.91,764.23 L206.51,763.37 L208.12,762.48 L209.73,761.58 L211.34,760.66 L212.94,759.73 L214.55,758.77 L216.16,757.80 L217.77,756.81 L219.38,755.80 L220.98,754.77 L222.59,753.72 L224.20,752.66 L225.81,751.57 L227.41,750.47 L229.02,749.35 L230.63,748.21 L232.24,747.05 L233.85,745.87 L235.45,744.68 L237.06,743.46 L238.67,742.23 L240.28,740.98 L241.88,739.72 L243.49,738.44 L245.10,737.13 L246.71,735.82 L248.31,734.48 L249.92,733.13 L251.53,731.77 L253.14,730.38 L254.75,728.98 L256.35,727.57 L257.96,726.14 L259.57,724.70 L261.18,723.24 L262.78,721.77 L264.39,720.28 L266.00,718.78 L267.61,717.27 L269.21,715.75 L270.82,714.21 L272.43,712.66 L274.04,711.10 L275.65,709.53 L277.25,707.95 L278.86,706.35 L280.47,704.75 L282.08,703.14 L283.68,701.52 L285.29,699.89 L286.90,698.25 L288.51,696.60 L290.11,694.95 L291.72,693.29 L293.33,691.62 L294.94,689.94 L296.55,688.26 L298.15,686.57 L299.76,684.87 L301.37,683.17 L302.98,681.47 L304.58,679.76 L306.19,678.04 L307.80,676.32 L309.41,674.60 L311.01,672.87 L312.62,671.13 L314.23,669.40 L315.84,667.66 L317.45,665.91 L319.05,664.16 L320.66,662.41 L322.27,660.66 L323.88,658.90 L325.48,657.14 L327.09,655.38 L328.70,653.62 L330.31,651.85 L331.91,650.08 L333.52,648.31 L335.13,646.54 L336.74,644.76 L338.35,642.98 L339.95,641.20 L341.56,639.42 L343.17,637.64 L344.78,635.86 L346.38,634.07 L347.99,632.28 L349.60,630.50 L351.21,628.71 L352.81,626.92 L354.42,625.13 L356.03,623.34 L357.64,621.55 L359.25,619.76 L360.85,617.96 L362.46,616.17 L364.07,614.38 L365.68,612.59 L367.28,610.81 L368.89,609.02 L370.50,607.23 L372.11,605.45 L373.71,603.67 L375.32,601.89 L376.93,600.11 L378.54,598.34 L380.15,596.57 L381.75,594.80 L383.36,593.04 L384.97,591.29 L386.58,589.54 L388.18,587.79 L389.79,586.05 L391.40,584.32 L393.01,582.59 L394.61,580.87 L396.22,579.16 L397.83,577.46 L399.44,575.77 L401.05,574.08 L402.65,572.41 L404.26,570.74 L405.87,569.09 L407.48,567.45 L409.08,565.82 L410.69,564.20 L412.30,562.60 L413.91,561.00 L415.51,559.42 L417.12,557.86 L418.73,556.31 L420.34,554.77 L421.95,553.25 L423.55,551.75 L425.16,550.26 L426.77,548.79 L428.38,547.33 L429.98,545.89 L431.59,544.47 L433.20,543.07 L434.81,541.68 L436.42,540.31 L438.02,538.96 L439.63,537.63 L441.24,536.32 L442.85,535.03 L444.45,533.76 L446.06,532.50 L447.67,531.27 L449.28,530.05 L450.88,528.86 L452.49,527.68 L454.10,526.52 L455.71,525.39 L457.32,524.27 L458.92,523.18 L460.53,522.10 L462.14,521.04 L463.75,520.01 L465.35,518.99 L466.96,517.99 L468.57,517.01 L470.18,516.05 L471.78,515.12 L473.39,514.20 L475.00,513.29 L476.61,512.41 L478.22,511.55 L479.82,510.70 L481.43,509.88 L483.04,509.07 L484.65,508.28 L486.25,507.51 L487.86,506.75 L489.47,506.01 L491.08,505.29 L492.68,504.59 L494.29,503.90 L495.90,503.23" fill="none" stroke="#000" stroke-width="1.6" stroke-linejoin="round"/>
<path d="M111.66,792.88 L113.27,792.75 L114.88,792.62 L116.48,792.48 L118.09,792.34 L119.70,792.20 L121.31,792.05 L122.91,791.89 L124.52,791.73 L126.13,791.57 L127.74,791.40 L129.34,791.23 L130.95,791.05 L132.56,790.86 L134.17,790.67 L135.78,790.47 L137.38,790.27 L138.99,790.06 L140.60,789.85 L142.21,789.63 L143.81,789.40 L145.42,789.16 L147.03,788.92 L148.64,788.67 L150.24,788.41 L151.85,788.14 L153.46,787.87 L155.07,787.59 L156.68,787.29 L158.28,786.99 L159.89,786.69 L161.50,786.37 L163.11,786.04 L164.71,785.70 L166.32,785.36 L167.93,785.00 L169.54,784.63 L171.14,784.25 L172.75,783.86 L174.36,783.46 L175.97,783.04 L177.58,782.62 L179.18,782.18 L180.79,781.73 L182.40,781.27 L184.01,780.79 L185.61,780.30 L187.22,779.79 L188.83,779.27 L190.44,778.74 L192.04,778.19 L193.65,777.63 L195.26,777.05 L196.87,776.45 L198.48,775.84 L200.08,775.21 L201.69,774.56 L203.30,773.90 L204.91,773.21 L206.51,772.51 L208.12,771.79 L209.73,771.05 L211.34,770.30 L212.94,769.52 L214.55,768.72 L216.16,767.90 L217.77,767.06 L219.38,766.20 L220.98,765.31 L222.59,764.41 L224.20,763.48 L225.81,762.52 L227.41,761.55 L229.02,760.55 L230.63,759.53 L232.24,758.48 L233.85,757.41 L235.45,756.31 L237.06,755.19 L238.67,754.04 L240.28,752.86 L241.88,751.66 L243.49,750.44 L245.10,749.18 L246.71,747.90 L248.31,746.59 L249.92,745.26 L251.53,743.89 L253.14,742.50 L254.75,741.08 L256.35,739.63 L257.96,738.16 L259.57,736.66 L261.18,735.12 L262.78,733.56 L264.39,731.98 L266.00,730.36 L267.61,728.72 L269.21,727.04 L270.82,725.34 L272.43,723.62 L274.04,721.86 L275.65,720.08 L277.25,718.27 L278.86,716.43 L280.47,714.57 L282.08,712.69 L283.68,710.77 L285.29,708.84 L286.90,706.87 L288.51,704.89 L290.11,702.88 L291.72,700.85 L293.33,698.80 L294.94,696.72 L296.55,694.63 L298.15,692.51 L299.76,690.38 L301.37,688.23 L302.98,686.06 L304.58,683.88 L306.19,681.68 L307.80,679.46 L309.41,677.23 L311.01,674.99 L312.62,672.74 L314.23,670.48 L315.84,668.21 L317.45,665.93 L319.05,663.64 L320.66,661.35 L322.27,659.06 L323.88,656.76 L325.48,654.45 L327.09,652.15 L328.70,649.85 L330.31,647.54 L331.91,645.24 L333.52,642.95 L335.13,640.65 L336.74,638.37 L338.35,636.09 L339.95,633.81 L341.56,631.55 L343.17,629.30 L344.78,627.06 L346.38,624.83 L347.99,622.61 L349.60,620.41 L351.21,618.22 L352.81,616.05 L354.42,613.90 L356.03,611.76 L357.64,609.65 L359.25,607.55 L360.85,605.47 L362.46,603.42 L364.07,601.38 L365.68,599.37 L367.28,597.38 L368.89,595.42 L370.50,593.48 L372.11,591.56 L373.71,589.67 L375.32,587.81 L376.93,585.97 L378.54,584.16 L380.15,582.37 L381.75,580.62 L383.36,578.88 L384.97,577.18 L386.58,575.51 L388.18,573.86 L389.79,572.24 L391.40,570.65 L393.01,569.08 L394.61,567.55 L396.22,566.04 L397.83,564.56 L399.44,563.11 L401.05,561.69 L402.65,560.29 L404.26,558.93 L405.87,557.59 L407.48,556.28 L409.08,554.99 L410.69,553.73 L412.30,552.50 L413.91,551.30 L415.51,550.12 L417.12,548.97 L418.73,547.84 L420.34,546.74 L421.95,545.67 L423.55,544.62 L425.16,543.59 L426.77,542.59 L428.38,541.61 L429.98,540.66 L431.59,539.73 L433.20,538.82 L434.81,537.93 L436.42,537.06 L438.02,536.22 L439.63,535.40 L441.24,534.60 L442.85,533.82 L444.45,533.06 L446.06,532.31 L447.67,531.59 L449.28,530.89 L450.88,530.20 L452.49,529.54 L454.10,528.89 L455.71,528.26 L457.32,527.64 L458.92,527.04 L460.53,526.46 L462.14,525.90 L463.75,525.35 L465.35,524.81 L466.96,524.29 L468.57,523.78 L470.18,523.29 L471.78,522.81 L473.39,522.35 L475.00,521.89 L476.61,521.45 L478.22,521.03 L479.82,520.61 L481.43,520.21 L483.04,519.82 L484.65,519.44 L486.25,519.07 L487.86,518.71 L489.47,518.36 L491.08,518.02 L492.68,517.69 L494.29,517.37 L495.90,517.06" fill="none" stroke="#111" stroke-width="1.3" stroke-linejoin="round" stroke-dasharray="1.5 3.9"/>
<path d="M111.66,796.67 L113.27,796.66 L114.88,796.65 L116.48,796.64 L118.09,796.64 L119.70,796.63 L121.31,796.62 L122.91,796.61 L124.52,796.60 L126.13,796.59 L127.74,796.58 L129.34,796.57 L130.95,796.56 L132.56,796.55 L134.17,796.54 L135.78,796.53 L137.38,796.51 L138.99,796.50 L140.60,796.49 L142.21,796.48 L143.81,796.46 L145.42,796.45 L147.03,796.43 L148.64,796.42 L150.24,796.40 L151.85,796.39 L153.46,796.37 L155.07,796.35 L156.68,796.34 L158.28,796.32 L159.89,796.30 L161.50,796.28 L163.11,796.26 L164.71,796.24 L166.32,796.22 L167.93,796.20 L169.54,796.17 L171.14,796.15 L172.75,796.13 L174.36,796.10 L175.97,796.08 L177.58,796.05 L179.18,796.02 L180.79,796.00 L182.40,795.97 L184.01,795.94 L185.61,795.91 L187.22,795.88 L188.83,795.84 L190.44,795.81 L192.04,795.78 L193.65,795.74 L195.26,795.70 L196.87,795.67 L198.48,795.63 L200.08,795.59 L201.69,795.54 L203.30,795.50 L204.91,795.46 L206.51,795.41 L208.12,795.37 L209.73,795.32 L211.34,795.27 L212.94,795.22 L214.55,795.16 L216.16,795.11 L217.77,795.05 L219.38,794.99 L220.98,794.93 L222.59,794.87 L224.20,794.81 L225.81,794.74 L227.41,794.68 L229.02,794.61 L230.63,794.54 L232.24,794.46 L233.85,794.39 L235.45,794.31 L237.06,794.23 L238.67,794.15 L240.28,794.06 L241.88,793.98 L243.49,793.89 L245.10,793.79 L246.71,793.70 L248.31,793.60 L249.92,793.50 L251.53,793.40 L253.14,793.29 L254.75,793.18 L256.35,793.07 L257.96,792.95 L259.57,792.83 L261.18,792.71 L262.78,792.59 L264.39,792.46 L266.00,792.32 L267.61,792.19 L269.21,792.05 L270.82,791.90 L272.43,791.75 L274.04,791.60 L275.65,791.45 L277.25,791.29 L278.86,791.12 L280.47,790.95 L282.08,790.78 L283.68,790.60 L285.29,790.42 L286.90,790.23 L288.51,790.04 L290.11,789.85 L291.72,789.64 L293.33,789.44 L294.94,789.23 L296.55,789.01 L298.15,788.79 L299.76,788.56 L301.37,788.33 L302.98,788.09 L304.58,787.85 L306.19,787.60 L307.80,787.34 L309.41,787.08 L311.01,786.82 L312.62,786.55 L314.23,786.27 L315.84,785.98 L317.45,785.69 L319.05,785.40 L320.66,785.10 L322.27,784.79 L323.88,784.47 L325.48,784.15 L327.09,783.83 L328.70,783.49 L330.31,783.15 L331.91,782.81 L333.52,782.46 L335.13,782.10 L336.74,781.73 L338.35,781.36 L339.95,780.98 L341.56,780.60 L343.17,780.21 L344.78,779.81 L346.38,779.41 L347.99,779.00 L349.60,778.59 L351.21,778.16 L352.81,777.74 L354.42,777.30 L356.03,776.86 L357.64,776.42 L359.25,775.97 L360.85,775.51 L362.46,775.04 L364.07,774.58 L365.68,774.10 L367.28,773.62 L368.89,773.13 L370.50,772.64 L372.11,772.15 L373.71,771.65 L375.32,771.14 L376.93,770.63 L378.54,770.11 L380.15,769.59 L381.75,769.06 L383.36,768.53 L384.97,767.99 L386.58,767.45 L388.18,766.91 L389.79,766.36 L391.40,765.81 L393.01,765.25 L394.61,764.68 L396.22,764.12 L397.83,763.55 L399.44,762.97 L401.05,762.39 L402.65,761.81 L404.26,761.22 L405.87,760.63 L407.48,760.04 L409.08,759.44 L410.69,758.83 L412.30,758.22 L413.91,757.61 L415.51,756.99 L417.12,756.37 L418.73,755.75 L420.34,755.12 L421.95,754.48 L423.55,753.84 L425.16,753.20 L426.77,752.55 L428.38,751.89 L429.98,751.23 L431.59,750.57 L433.20,749.89 L434.81,749.22 L436.42,748.53 L438.02,747.84 L439.63,747.14 L441.24,746.43 L442.85,745.72 L444.45,745.00 L446.06,744.26 L447.67,743.52 L449.28,742.77 L450.88,742.02 L452.49,741.25 L454.10,740.47 L455.71,739.67 L457.32,738.87 L458.92,738.06 L460.53,737.23 L462.14,736.39 L463.75,735.53 L465.35,734.66 L466.96,733.77 L468.57,732.87 L470.18,731.95 L471.78,731.02 L473.39,730.06 L475.00,729.09 L476.61,728.10 L478.22,727.08 L479.82,726.05 L481.43,724.99 L483.04,723.91 L484.65,722.80 L486.25,721.67 L487.86,720.51 L489.47,719.33 L491.08,718.11 L492.68,716.87 L494.29,715.60 L495.90,714.29" fill="none" stroke="#000" stroke-width="1.3" stroke-linejoin="round"/>
<line x1="111.66" y1="788.00" x2="111.66" y2="792.81" stroke="#111" stroke-width="1.05"/>
<line x1="106.16" y1="788.00" x2="117.16" y2="788.00" stroke="#111" stroke-width="1.05"/>
<line x1="106.16" y1="792.81" x2="117.16" y2="792.81" stroke="#111" stroke-width="1.05"/>
<line x1="146.70" y1="782.36" x2="146.70" y2="788.77" stroke="#111" stroke-width="1.05"/>
<line x1="141.20" y1="782.36" x2="152.20" y2="782.36" stroke="#111" stroke-width="1.05"/>
<line x1="141.20" y1="788.77" x2="152.20" y2="788.77" stroke="#111" stroke-width="1.05"/>
<line x1="181.74" y1="768.60" x2="181.74" y2="778.22" stroke="#111" stroke-width="1.05"/>
<line x1="176.24" y1="768.60" x2="187.24" y2="768.60" stroke="#111" stroke-width="1.05"/>
<line x1="176.24" y1="778.22" x2="187.24" y2="778.22" stroke="#111" stroke-width="1.05"/>
<line x1="216.78" y1="751.04" x2="216.78" y2="763.87" stroke="#111" stroke-width="1.05"/>
<line x1="211.28" y1="751.04" x2="222.28" y2="751.04" stroke="#111" stroke-width="1.05"/>
<line x1="211.28" y1="763.87" x2="222.28" y2="763.87" stroke="#111" stroke-width="1.05"/>
<line x1="248.56" y1="728.51" x2="248.56" y2="747.76" stroke="#111" stroke-width="1.05"/>
<line x1="243.06" y1="728.51" x2="254.06" y2="728.51" stroke="#111" stroke-width="1.05"/>
<line x1="243.06" y1="747.76" x2="254.06" y2="747.76" stroke="#111" stroke-width="1.05"/>
<line x1="283.60" y1="684.82" x2="283.60" y2="713.68" stroke="#111" stroke-width="1.05"/>
<line x1="278.10" y1="684.82" x2="289.10" y2="684.82" stroke="#111" stroke-width="1.05"/>
<line x1="278.10" y1="713.68" x2="289.10" y2="713.68" stroke="#111" stroke-width="1.05"/>
<line x1="318.64" y1="646.26" x2="318.64" y2="676.73" stroke="#111" stroke-width="1.05"/>
<line x1="313.14" y1="646.26" x2="324.14" y2="646.26" stroke="#111" stroke-width="1.05"/>
<line x1="313.14" y1="676.73" x2="324.14" y2="676.73" stroke="#111" stroke-width="1.05"/>
<line x1="355.74" y1="620.13" x2="355.74" y2="635.04" stroke="#111" stroke-width="1.05"/>
<line x1="350.24" y1="620.13" x2="361.24" y2="620.13" stroke="#111" stroke-width="1.05"/>
<line x1="350.24" y1="635.04" x2="361.24" y2="635.04" stroke="#111" stroke-width="1.05"/>
<line x1="390.78" y1="577.64" x2="390.78" y2="591.10" stroke="#111" stroke-width="1.05"/>
<line x1="385.28" y1="577.64" x2="396.28" y2="577.64" stroke="#111" stroke-width="1.05"/>
<line x1="385.28" y1="591.10" x2="396.28" y2="591.10" stroke="#111" stroke-width="1.05"/>
<line x1="425.82" y1="543.48" x2="425.82" y2="558.39" stroke="#111" stroke-width="1.05"/>
<line x1="420.32" y1="543.48" x2="431.32" y2="543.48" stroke="#111" stroke-width="1.05"/>
<line x1="420.32" y1="558.39" x2="431.32" y2="558.39" stroke="#111" stroke-width="1.05"/>
<line x1="460.86" y1="492.09" x2="460.86" y2="542.60" stroke="#111" stroke-width="1.05"/>
<line x1="455.36" y1="492.09" x2="466.36" y2="492.09" stroke="#111" stroke-width="1.05"/>
<line x1="455.36" y1="542.60" x2="466.36" y2="542.60" stroke="#111" stroke-width="1.05"/>
<line x1="495.90" y1="483.84" x2="495.90" y2="528.09" stroke="#111" stroke-width="1.05"/>
<line x1="490.40" y1="483.84" x2="501.40" y2="483.84" stroke="#111" stroke-width="1.05"/>
<line x1="490.40" y1="528.09" x2="501.40" y2="528.09" stroke="#111" stroke-width="1.05"/>
<line x1="248.56" y1="791.53" x2="248.56" y2="794.74" stroke="#111" stroke-width="1.05"/>
<line x1="243.06" y1="791.53" x2="254.06" y2="791.53" stroke="#111" stroke-width="1.05"/>
<line x1="243.06" y1="794.74" x2="254.06" y2="794.74" stroke="#111" stroke-width="1.05"/>
<line x1="283.60" y1="789.52" x2="283.60" y2="792.73" stroke="#111" stroke-width="1.05"/>
<line x1="278.10" y1="789.52" x2="289.10" y2="789.52" stroke="#111" stroke-width="1.05"/>
<line x1="278.10" y1="792.73" x2="289.10" y2="792.73" stroke="#111" stroke-width="1.05"/>
<line x1="318.64" y1="783.64" x2="318.64" y2="788.45" stroke="#111" stroke-width="1.05"/>
<line x1="313.14" y1="783.64" x2="324.14" y2="783.64" stroke="#111" stroke-width="1.05"/>
<line x1="313.14" y1="788.45" x2="324.14" y2="788.45" stroke="#111" stroke-width="1.05"/>
<line x1="355.74" y1="775.82" x2="355.74" y2="782.23" stroke="#111" stroke-width="1.05"/>
<line x1="350.24" y1="775.82" x2="361.24" y2="775.82" stroke="#111" stroke-width="1.05"/>
<line x1="350.24" y1="782.23" x2="361.24" y2="782.23" stroke="#111" stroke-width="1.05"/>
<line x1="390.78" y1="756.25" x2="390.78" y2="768.28" stroke="#111" stroke-width="1.05"/>
<line x1="385.28" y1="756.25" x2="396.28" y2="756.25" stroke="#111" stroke-width="1.05"/>
<line x1="385.28" y1="768.28" x2="396.28" y2="768.28" stroke="#111" stroke-width="1.05"/>
<line x1="425.82" y1="750.48" x2="425.82" y2="758.82" stroke="#111" stroke-width="1.05"/>
<line x1="420.32" y1="750.48" x2="431.32" y2="750.48" stroke="#111" stroke-width="1.05"/>
<line x1="420.32" y1="758.82" x2="431.32" y2="758.82" stroke="#111" stroke-width="1.05"/>
<line x1="460.86" y1="728.27" x2="460.86" y2="745.91" stroke="#111" stroke-width="1.05"/>
<line x1="455.36" y1="728.27" x2="466.36" y2="728.27" stroke="#111" stroke-width="1.05"/>
<line x1="455.36" y1="745.91" x2="466.36" y2="745.91" stroke="#111" stroke-width="1.05"/>
<line x1="495.90" y1="701.66" x2="495.90" y2="726.67" stroke="#111" stroke-width="1.05"/>
<line x1="490.40" y1="701.66" x2="501.40" y2="701.66" stroke="#111" stroke-width="1.05"/>
<line x1="490.40" y1="726.67" x2="501.40" y2="726.67" stroke="#111" stroke-width="1.05"/>
<rect x="106.76" y="785.51" width="9.8" height="9.8" fill="#0a0a0a"/>
<rect x="141.80" y="780.66" width="9.8" height="9.8" fill="#0a0a0a"/>
<rect x="176.84" y="768.51" width="9.8" height="9.8" fill="#0a0a0a"/>
<rect x="211.88" y="752.56" width="9.8" height="9.8" fill="#0a0a0a"/>
<rect x="243.66" y="733.24" width="9.8" height="9.8" fill="#0a0a0a"/>
<rect x="278.70" y="694.35" width="9.8" height="9.8" fill="#0a0a0a"/>
<rect x="313.74" y="656.59" width="9.8" height="9.8" fill="#0a0a0a"/>
<rect x="350.84" y="622.68" width="9.8" height="9.8" fill="#0a0a0a"/>
<rect x="385.88" y="579.47" width="9.8" height="9.8" fill="#0a0a0a"/>
<rect x="420.92" y="546.04" width="9.8" height="9.8" fill="#0a0a0a"/>
<rect x="455.96" y="512.45" width="9.8" height="9.8" fill="#0a0a0a"/>
<rect x="491.00" y="501.06" width="9.8" height="9.8" fill="#0a0a0a"/>
<circle cx="111.66" cy="795.30" r="5.5" fill="#0a0a0a"/>
<circle cx="146.70" cy="795.30" r="5.5" fill="#0a0a0a"/>
<circle cx="181.74" cy="794.90" r="5.5" fill="#0a0a0a"/>
<circle cx="216.78" cy="794.49" r="5.5" fill="#0a0a0a"/>
<circle cx="248.56" cy="793.13" r="5.5" fill="#0a0a0a"/>
<circle cx="283.60" cy="791.13" r="5.5" fill="#0a0a0a"/>
<circle cx="318.64" cy="786.04" r="5.5" fill="#0a0a0a"/>
<circle cx="355.74" cy="779.02" r="5.5" fill="#0a0a0a"/>
<circle cx="390.78" cy="762.27" r="5.5" fill="#0a0a0a"/>
<circle cx="425.82" cy="754.65" r="5.5" fill="#0a0a0a"/>
<circle cx="460.86" cy="737.09" r="5.5" fill="#0a0a0a"/>
<circle cx="495.90" cy="714.16" r="5.5" fill="#0a0a0a"/>
<rect x="92.6" y="415.9" width="422.70" height="381.00" fill="none" stroke="#000" stroke-width="1.8"/>
<line x1="92.60" y1="480.30" x2="515.30" y2="480.30" stroke="#000" stroke-width="1.8"/>
<line x1="276.00" y1="511.50" x2="294.00" y2="511.50" stroke="#ddd" stroke-width="0.8"/>
<line x1="298.00" y1="511.50" x2="325.00" y2="511.50" stroke="#e4e4e4" stroke-width="0.8"/>
<text x="81.20" y="803.70" font-size="20" text-anchor="end" textLength="39.6" lengthAdjust="spacingAndGlyphs">0.00</text>
<text x="81.20" y="763.61" font-size="20" text-anchor="end" textLength="39.6" lengthAdjust="spacingAndGlyphs">0.05</text>
<text x="81.20" y="723.53" font-size="20" text-anchor="end" textLength="39.6" lengthAdjust="spacingAndGlyphs">0.10</text>
<text x="81.20" y="683.44" font-size="20" text-anchor="end" textLength="39.6" lengthAdjust="spacingAndGlyphs">0.15</text>
<text x="81.20" y="643.36" font-size="20" text-anchor="end" textLength="39.6" lengthAdjust="spacingAndGlyphs">0.20</text>
<text x="81.20" y="603.27" font-size="20" text-anchor="end" textLength="39.6" lengthAdjust="spacingAndGlyphs">0.25</text>
<text x="81.20" y="563.19" font-size="20" text-anchor="end" textLength="39.6" lengthAdjust="spacingAndGlyphs">0.30</text>
<text x="81.20" y="523.10" font-size="20" text-anchor="end" textLength="39.6" lengthAdjust="spacingAndGlyphs">0.35</text>
<text x="81.20" y="428.55" font-size="20" text-anchor="end" textLength="39.6" lengthAdjust="spacingAndGlyphs">0.02</text>
<text x="81.20" y="453.60" font-size="20" text-anchor="end" textLength="39.6" lengthAdjust="spacingAndGlyphs">0.00</text>
<text x="81.20" y="478.65" font-size="20" text-anchor="end" textLength="46.2" lengthAdjust="spacingAndGlyphs">-0.02</text>
<text x="112.26" y="825.50" font-size="20" text-anchor="middle">1</text>
<text x="228.66" y="825.50" font-size="20" text-anchor="middle" textLength="21.5" lengthAdjust="spacingAndGlyphs">10</text>
<text x="345.06" y="825.50" font-size="20" text-anchor="middle" textLength="33.0" lengthAdjust="spacingAndGlyphs">100</text>
<text x="461.46" y="825.50" font-size="20" text-anchor="middle" textLength="44.5" lengthAdjust="spacingAndGlyphs">1000</text>
<text x="305.20" y="856.20" font-size="20.6" text-anchor="middle" textLength="84.0" lengthAdjust="spacingAndGlyphs">[tPA], nM</text>
<g transform="translate(23.60,788.80) rotate(-90)"><text x="0" y="0" font-size="20.5" text-anchor="start" textLength="256.4" lengthAdjust="spacingAndGlyphs">Plasmin generation, nM.min</text><text x="258.2" y="-10.6" font-size="13.4" text-anchor="start" textLength="11.6" lengthAdjust="spacingAndGlyphs">-1</text></g>
<g transform="translate(23.1,491.0) rotate(-90)"><text x="0" y="0" font-size="20" text-anchor="start" textLength="82.6" lengthAdjust="spacingAndGlyphs">residuals</text></g></g></svg></body></html>
